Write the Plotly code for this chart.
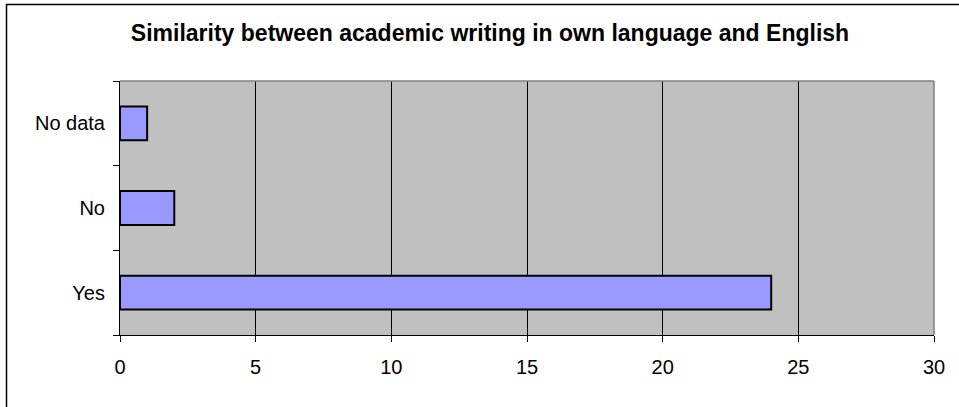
import plotly.graph_objects as go

# Survey answers and counts
categories = ["Yes", "No", "No data"]
counts = [24, 2, 1]
x_ticks = [0, 5, 10, 15, 20, 25, 30]
title_text = "Similarity between academic writing in own language and English"

W, H = 959, 407
L, R, T, B = 120, 25, 81, 72
pw, ph = W - L - R, H - T - B


def px_to_paper_x(px):
    return (px - L) / pw


def px_to_paper_y(py):
    return (H - B - py) / ph


fig = go.Figure(
    go.Bar(
        x=counts,
        y=categories,
        orientation="h",
        width=0.4,
        marker=dict(color="#9999FF", line=dict(color="#000000", width=2)),
        hoverinfo="x+y",
    )
)

fig.update_layout(
    width=W,
    height=H,
    margin=dict(l=L, r=R, t=T, b=B, pad=0),
    paper_bgcolor="#FFFFFF",
    plot_bgcolor="#C0C0C0",
    showlegend=False,
    font=dict(family="Liberation Sans, Arial, sans-serif", color="#000000", size=20),
    title=dict(
        text="<b>" + title_text + "</b>",
        x=490 / W,
        xanchor="center",
        y=1 - 33 / H,
        yanchor="middle",
        font=dict(size=23, family="Liberation Sans, Arial, sans-serif", color="#000000"),
    ),
    bargap=0.6,
)

fig.update_xaxes(
    range=[0, 30],
    tickvals=x_ticks,
    ticktext=[str(v) for v in x_ticks],
    showgrid=True,
    gridcolor="#000000",
    gridwidth=1,
    zeroline=False,
    showline=True,
    linecolor="#000000",
    linewidth=1,
    ticks="outside",
    ticklen=6,
    tickcolor="#000000",
    tickfont=dict(size=20),
    ticklabelstandoff=8,
    fixedrange=True,
)

fig.update_yaxes(
    type="category",
    categoryorder="array",
    categoryarray=categories,
    tickson="boundaries",
    showgrid=False,
    zeroline=False,
    showline=True,
    linecolor="#000000",
    linewidth=1,
    ticks="outside",
    ticklen=6,
    tickcolor="#000000",
    tickfont=dict(size=20),
    ticklabelstandoff=10,
    fixedrange=True,
)

# Gray border on the top and right of the plot area
fig.add_shape(type="line", xref="paper", yref="paper", x0=0, x1=1, y0=1, y1=1,
              line=dict(color="#808080", width=1.5), layer="above")
fig.add_shape(type="line", xref="paper", yref="paper", x0=1, x1=1, y0=0, y1=1,
              line=dict(color="#808080", width=1.5), layer="above")

# Outer chart frame
fig.add_shape(
    type="rect",
    xref="paper",
    yref="paper",
    x0=px_to_paper_x(6.5),
    x1=px_to_paper_x(W + 5),
    y0=px_to_paper_y(H + 5),
    y1=px_to_paper_y(4.5),
    line=dict(color="#000000", width=1.5),
    fillcolor="rgba(0,0,0,0)",
    layer="above",
)

fig.write_html("out.html")
